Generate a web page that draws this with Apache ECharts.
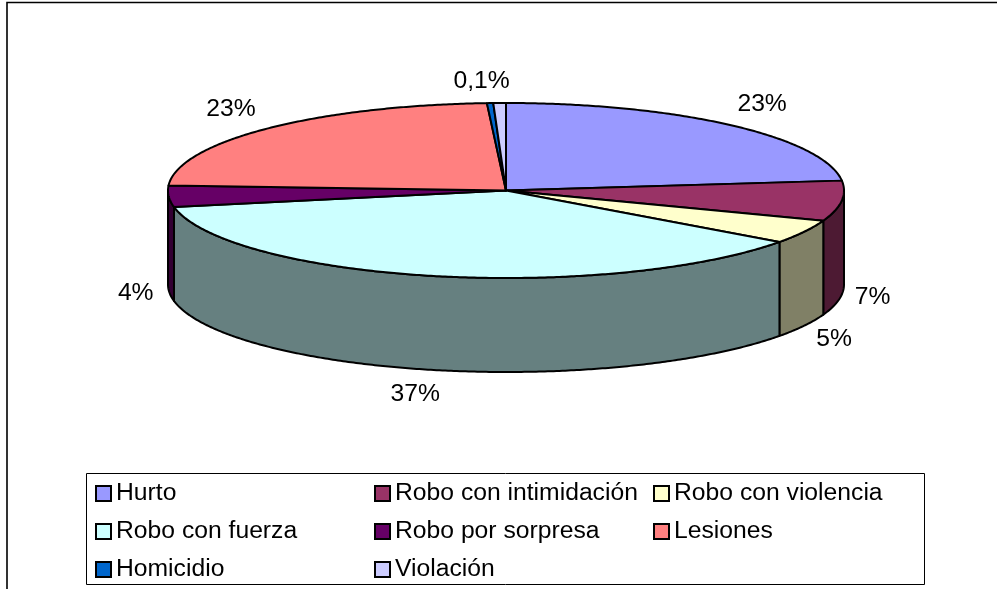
<!DOCTYPE html>
<html>
<head>
<meta charset="utf-8">
<style>html,body{margin:0;padding:0;background:#fff}#c{width:997px;height:589px}</style>
<script src="https://cdn.jsdelivr.net/npm/echarts@6/dist/echarts.min.js"></script>
</head>
<body>
<div id="c"></div>
<script>
const categories = ['Hurto','Robo con intimidación','Robo con violencia','Robo con fuerza','Robo por sorpresa','Lesiones','Homicidio','Violación'];
const shares = [23.2, 7.4, 4.4, 37.0, 3.9, 23.2, 0.3, 0.6];
const shareLabels = ['23%','7%','5%','37%','4%','23%','','0,1%'];
const colors = ['#9999FF','#993366','#FFFFCC','#CCFFFF','#660066','#FF8080','#0066CC','#CCCCFF'];
const wallColors = ['#4D4D80','#4D1A33','#808066','#668080','#330033','#804040','#003366','#666680'];
// label offset from the slice's rim point (on the wall for front slices)
const labelNudge = [[31,-21],[31,2],[30,14],[-17,24],[-33,3],[-36,-19],[0,0],[-18,-22]];

const cx = 506, cy = 190.5, rx = 338, ry = 87.5, depth = 94;
const total = shares.reduce((a,b)=>a+b,0);
const FONT = '"Liberation Sans", Arial, sans-serif';
const FS = 24.7;

function rim(t, dy){ return [cx + rx*Math.sin(t), cy - ry*Math.cos(t) + (dy||0)]; }
function arc(t0, t1, dy){
  const n = Math.max(2, Math.ceil(Math.abs(t1-t0)/(Math.PI/360)));
  const pts = [];
  for (let i=0;i<=n;i++) pts.push(rim(t0+(t1-t0)*i/n, dy));
  return pts;
}
function sliceAngles(i){
  let s = 0;
  for (let k=0;k<i;k++) s += shares[k];
  return [s/total*2*Math.PI, (s+shares[i])/total*2*Math.PI];
}
function renderSlice(i){
  const [a,b] = sliceAngles(i);
  const kids = [];
  const lo = Math.max(a, Math.PI/2), hi = Math.min(b, 3*Math.PI/2);
  const style = {stroke:'#000', lineWidth:2, lineJoin:'round'};
  if (hi > lo){
    const top = arc(lo,hi,0), bot = arc(hi,lo,depth);
    kids.push({type:'polygon', z2:1, shape:{points:top.concat(bot)}, style:Object.assign({fill:wallColors[i]},style)});
  }
  const face = [[cx,cy]].concat(arc(a,b,0));
  kids.push({type:'polygon', z2:10, shape:{points:face}, style:Object.assign({fill:colors[i]},style)});
  if (shareLabels[i]){
    const mid = (a+b)/2;
    const onWall = Math.cos(mid) < 0;
    const p = rim(mid, onWall ? depth : 0);
    kids.push({type:'text', z2:20, x:p[0]+labelNudge[i][0], y:p[1]+labelNudge[i][1],
      style:{text:shareLabels[i], font:FS+'px '+FONT, fill:'#000', align:'center', verticalAlign:'middle'}});
  }
  return {type:'group', children:kids};
}

const series = categories.map((name,i)=>({
  type:'custom', name, coordinateSystem:'none', silent:true, animation:false,
  itemStyle:{color:colors[i]},
  data:[[shares[i]]],
  renderItem:()=>renderSlice(i)
}));

function col(names,left){
  return {show:true, orient:'vertical', left, top:481, icon:'rect', itemWidth:15, itemHeight:15, itemGap:13,
    padding:0, selectedMode:false, data:names,
    itemStyle:{borderColor:'#000', borderWidth:2},
    textStyle:{fontFamily:FONT, fontSize:FS, color:'#000', lineHeight:24}};
}
const option = {
  backgroundColor:'#fff',
  animation:false,
  legend:[
    col([categories[0],categories[3],categories[6]],95),
    col([categories[1],categories[4],categories[7]],374),
    col([categories[2],categories[5]],653)
  ],
  graphic:[
    {type:'rect', silent:true, z:-1, shape:{x:7,y:2.5,width:1100,height:700}, style:{fill:'#fff',stroke:'#000',lineWidth:1.6}},
    {type:'rect', silent:true, z:-1, shape:{x:86.5,y:473.5,width:838,height:111}, style:{fill:'#fff',stroke:'#000',lineWidth:1}}
  ],
  series
};
echarts.init(document.getElementById('c'),null,{renderer:'canvas'}).setOption(option);
</script>
</body>
</html>
